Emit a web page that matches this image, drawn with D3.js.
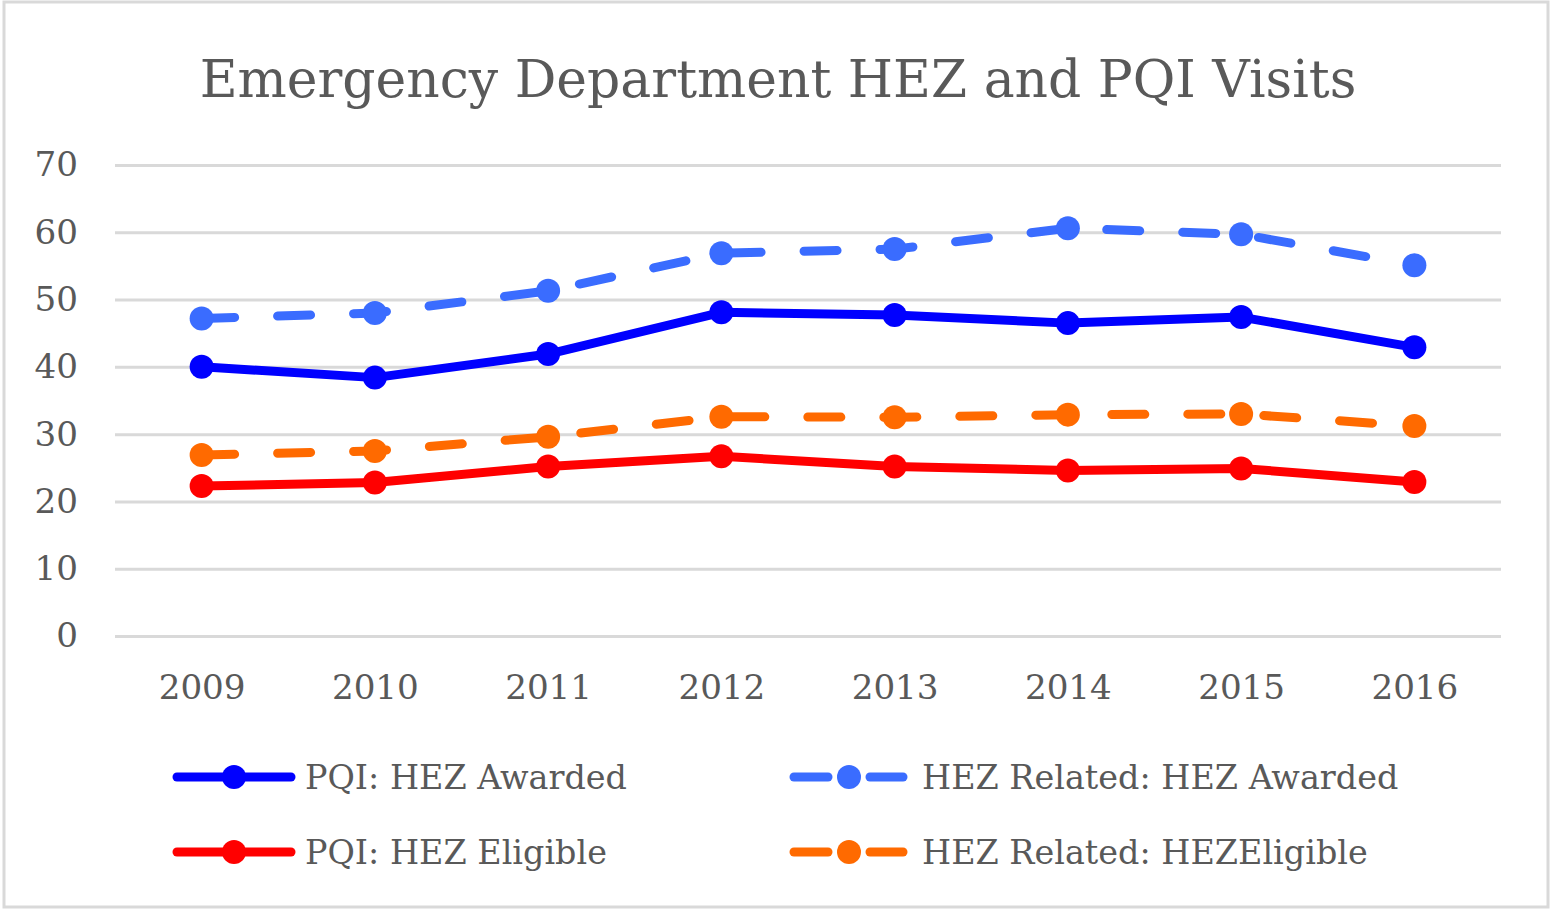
<!DOCTYPE html>
<html>
<head>
<meta charset="utf-8">
<script src="https://cdn.jsdelivr.net/npm/d3@7"></script>
<style>
  html, body { margin: 0; padding: 0; background: #fff; }
  #chart { width: 1550px; height: 909px; }
</style>
</head>
<body>
<div id="chart"></div>
<script>
const years = ["2009", "2010", "2011", "2012", "2013", "2014", "2015", "2016"];
const pqiAwarded = [40.0, 38.4, 41.9, 48.1, 47.7, 46.5, 47.4, 42.9];
const pqiEligible = [22.3, 22.8, 25.2, 26.7, 25.2, 24.6, 24.9, 22.9];
const hezAwarded = [47.2, 48.0, 51.3, 56.9, 57.5, 60.6, 59.7, 55.1];
const hezEligible = [26.9, 27.5, 29.6, 32.6, 32.5, 32.9, 33.0, 31.2];
const yTicks = [0, 10, 20, 30, 40, 50, 60, 70];

const series = [
  { name: "PQI: HEZ Awarded", values: pqiAwarded, color: "#0000ff", dashed: false },
  { name: "HEZ Related: HEZ Awarded", values: hezAwarded, color: "#3a6cff", dashed: true },
  { name: "PQI: HEZ Eligible", values: pqiEligible, color: "#ff0000", dashed: false },
  { name: "HEZ Related: HEZEligible", values: hezEligible, color: "#ff6a00", dashed: true }
];

const fullWidth = 1550, fullHeight = 909;
const font = "'DejaVu Serif', serif";
const textColor = "#595959";

const svg = d3.select("#chart")
  .append("svg")
  .attr("width", fullWidth)
  .attr("height", fullHeight)
  .style("font-family", font);

// font size that makes a string a given width
function fitSize(str, target) {
  const t = svg.append("text").style("font-size", "100px").text(str);
  const w = t.node().getComputedTextLength();
  t.remove();
  return 100 * target / w;
}

// === Border ===
svg.append("rect")
  .attr("x", 4).attr("y", 2)
  .attr("width", 1544).attr("height", 905)
  .attr("fill", "#fff")
  .attr("stroke", "#d9d9d9")
  .attr("stroke-width", 3);

const x = d3.scalePoint().domain(years).range([115, 1501]).padding(0.5);
const y = d3.scaleLinear().domain([0, 70]).range([636, 165]);

const tickSize = fitSize("2009", 87);

// === Gridlines + y axis ===
const yAxis = svg.append("g")
  .attr("transform", "translate(115,0)")
  .call(d3.axisLeft(y).tickValues(yTicks).tickSize(-1386).tickPadding(37));
yAxis.select(".domain").remove();
yAxis.selectAll("line").attr("stroke", "#d9d9d9").attr("stroke-width", 3);
yAxis.selectAll("text")
  .style("font-family", font)
  .style("font-size", tickSize + "px")
  .attr("fill", textColor);

// === x axis ===
const xAxis = svg.append("g")
  .attr("transform", "translate(0,636)")
  .call(d3.axisBottom(x).tickSize(0).tickPadding(39));
xAxis.select(".domain").remove();
xAxis.selectAll("text")
  .style("font-family", font)
  .style("font-size", tickSize + "px")
  .attr("fill", textColor);

// === Lines ===
const line = d3.line()
  .x((d, i) => x(years[i]))
  .y(d => y(d));

// draw dashed first, then solid on top
const order = [series[1], series[3], series[0], series[2]];
order.forEach(s => {
  svg.append("path")
    .datum(s.values)
    .attr("d", line)
    .attr("fill", "none")
    .attr("stroke", s.color)
    .attr("stroke-width", 9)
    .attr("stroke-linecap", "round")
    .attr("stroke-linejoin", "round")
    .attr("stroke-dasharray", s.dashed ? "33 43" : null);

  svg.append("g")
    .selectAll("circle")
    .data(s.values)
    .enter()
    .append("circle")
    .attr("cx", (d, i) => x(years[i]))
    .attr("cy", d => y(d))
    .attr("r", 12)
    .attr("fill", s.color);
});

// === Title ===
svg.append("text")
  .attr("x", 778)
  .attr("y", 97)
  .attr("text-anchor", "middle")
  .style("font-size", fitSize("Emergency Department HEZ and PQI Visits", 1157) + "px")
  .attr("fill", textColor)
  .text("Emergency Department HEZ and PQI Visits");

// === Legend ===
const legendSize = fitSize("PQI: HEZ Awarded", 322);
const legendPos = [
  { x: 173, y: 777 },
  { x: 790, y: 777 },
  { x: 173, y: 852 },
  { x: 790, y: 852 }
];
series.forEach((s, i) => {
  const p = legendPos[i];
  const g = svg.append("g").attr("transform", `translate(${p.x},${p.y})`);
  if (s.dashed) {
    g.append("line").attr("x1", 4).attr("x2", 38).attr("y1", 0).attr("y2", 0)
      .attr("stroke", s.color).attr("stroke-width", 9).attr("stroke-linecap", "round");
    g.append("line").attr("x1", 80).attr("x2", 113).attr("y1", 0).attr("y2", 0)
      .attr("stroke", s.color).attr("stroke-width", 9).attr("stroke-linecap", "round");
    g.append("circle").attr("cx", 59).attr("cy", 0).attr("r", 12).attr("fill", s.color);
  } else {
    g.append("line").attr("x1", 4).attr("x2", 118).attr("y1", 0).attr("y2", 0)
      .attr("stroke", s.color).attr("stroke-width", 9).attr("stroke-linecap", "round");
    g.append("circle").attr("cx", 61).attr("cy", 0).attr("r", 12).attr("fill", s.color);
  }
  g.append("text")
    .attr("x", 132)
    .attr("y", 0)
    .attr("dy", "0.35em")
    .style("font-size", legendSize + "px")
    .attr("fill", textColor)
    .text(s.name);
});
</script>
</body>
</html>
